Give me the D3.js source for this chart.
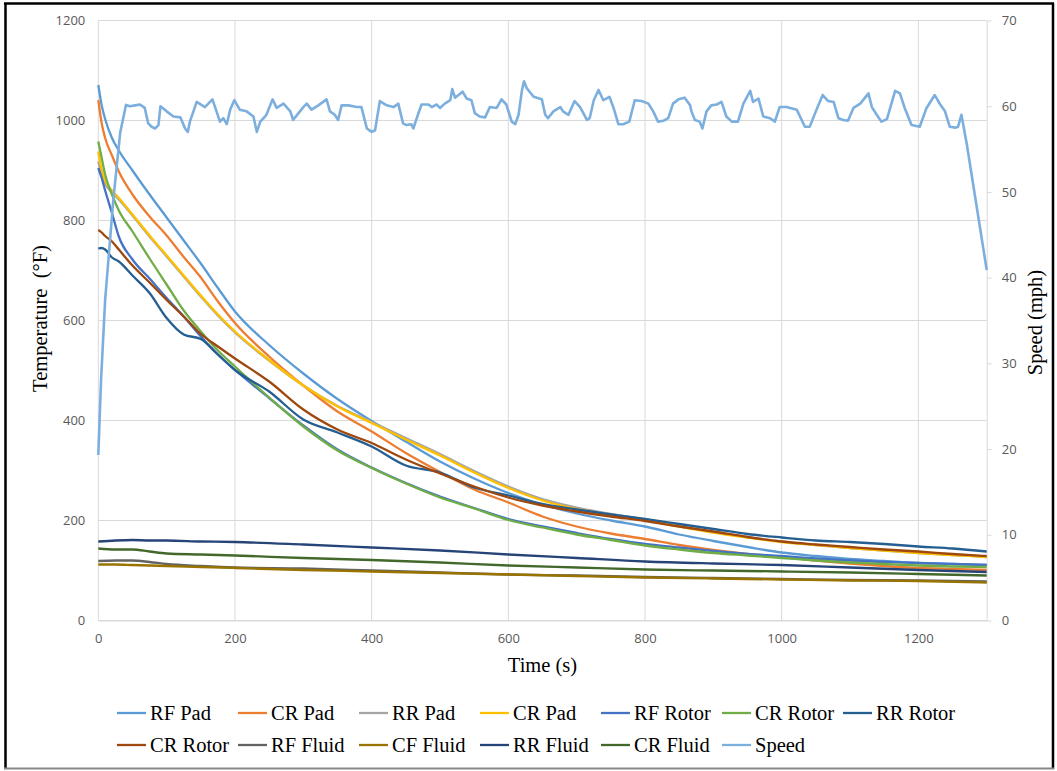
<!DOCTYPE html>
<html>
<head>
<meta charset="utf-8">
<script src="https://cdn.jsdelivr.net/npm/d3@7"></script>
<style>
  body { margin: 0; background: #fff; }
  svg { display: block; }
</style>
</head>
<body>
<div id="chart"></div>
<script>
// time grid (s) for pad / rotor readings
const tempTime = [0, 5, 10, 20, 30, 50, 75, 100, 125, 150, 175, 200, 250, 300, 350, 400, 450, 500,
  550, 600, 650, 700, 750, 800, 850, 900, 950, 1000, 1050, 1100, 1150, 1200, 1250, 1300];

const rfPad = [1071, 1030, 1003, 965, 940, 900, 852, 806, 760, 714, 665, 618, 551, 494, 443, 399, 358, 318,
  284, 255, 232, 214, 200, 188, 172, 159, 147, 136, 129, 123, 119, 115, 113, 111];
const crPadA = [1041, 994, 965, 930, 898, 852, 808, 770, 727, 686, 638, 595, 528, 470, 418, 378, 335, 297,
  262, 236, 208, 188, 174, 163, 151, 141, 133, 127, 120, 114, 109, 105, 103, 101];
const rrPad = [918, 892, 874, 856, 842, 810, 768, 728, 688, 648, 610, 576, 520, 470, 429, 397, 365, 333,
  299, 268, 243, 226, 213, 202, 189, 177, 167, 158, 151, 145, 140, 135, 131, 127];
const crPadB = [938, 900, 880, 860, 845, 812, 770, 730, 690, 650, 612, 578, 521, 470, 428, 395, 362, 330,
  296, 265, 240, 223, 211, 201, 188, 176, 166, 157, 151, 145, 140, 135, 131, 127];
const rfRotor = [905, 885, 860, 815, 768, 722, 684, 645, 608, 568, 532, 501, 445, 390, 342, 306, 275, 248,
  225, 203, 188, 175, 163, 153, 146, 139, 133, 129, 124, 120, 117, 115, 113, 111];
const crRotorA = [958, 925, 892, 852, 820, 778, 724, 672, 620, 578, 540, 508, 446, 388, 340, 305, 274, 246,
  224, 201, 186, 172, 161, 150, 142, 135, 130, 125, 120, 116, 113, 110, 108, 107];
const rrRotor = [744, 745, 742, 726, 718, 690, 655, 605, 572, 563, 532, 501, 458, 402, 376, 348, 310, 296,
  266, 250, 233, 222, 212, 203, 193, 183, 173, 166, 160, 157, 153, 148, 144, 138];
const crRotorB = [781, 776, 769, 758, 742, 710, 676, 641, 608, 573, 548, 524, 478, 422, 382, 355, 322, 294,
  268, 246, 230, 218, 208, 199, 188, 178, 167, 158, 152, 147, 142, 138, 133, 129];

// fluids change slowly, coarser grid
const fluidTime = [0, 25, 50, 75, 100, 150, 200, 300, 400, 500, 600, 700, 800, 900, 1000, 1100, 1200, 1300];
const rfFluid = [119, 120, 120, 117, 113, 109, 106, 104, 100, 96, 92, 90, 87, 85, 83, 81, 80, 78];
const cfFluid = [112, 112, 111, 110, 109, 107, 105, 101, 98, 95, 92, 89, 86, 84, 82, 80, 79, 76];
const rrFluid = [158, 160, 161, 160, 160, 158, 157, 152, 146, 140, 132, 125, 118, 114, 111, 106, 101, 97];
const crFluid = [144, 142, 142, 138, 134, 132, 130, 125, 121, 116, 110, 106, 102, 100, 98, 96, 93, 90];

// speed trace (mph), right axis
const speedTime = [0, 4, 10, 22, 32, 40.5, 46, 54, 61, 68, 73, 78, 83, 88, 91, 100, 110, 120, 127, 131,
  134, 144, 156, 167, 173, 178, 183, 188, 193, 199, 207, 217, 227, 232, 237, 244, 246, 255, 261, 271,
  281, 285, 293, 300, 305, 312, 322, 334, 339, 346, 351, 356, 366, 378, 385, 393, 400, 405, 412, 422,
  432, 439, 441, 446, 451, 458, 461, 466, 473, 483, 488, 495, 500, 507, 515, 518, 522, 533, 539, 546,
  551, 558, 566, 573, 583, 590, 597, 605, 610, 615, 620, 623, 627, 637, 649, 654, 658, 666, 676, 680,
  688, 697, 705, 715, 719, 725, 732, 739, 748, 754, 761, 768, 777, 785, 795, 805, 812, 819, 827, 834,
  841, 849, 858, 866, 868, 873, 880, 884, 890, 897, 905, 912, 919, 927, 936, 944, 954, 958, 966, 973,
  983, 990, 997, 1007, 1022, 1034, 1041, 1051, 1060, 1068, 1076, 1083, 1090, 1097, 1105, 1115, 1127, 1132, 1139, 1146,
  1154, 1166, 1173, 1180, 1190, 1202, 1212, 1224, 1232, 1239, 1246, 1254, 1258, 1263, 1271, 1300];
const speedMph = [19.3, 28, 37.4, 49.1, 56.9, 60.15, 60.0, 60.1, 60.2, 59.8, 58.0, 57.6, 57.4, 57.8, 60.0, 59.4, 58.8, 58.7, 57.4, 57.0,
  58.2, 60.5, 59.9, 60.8, 59.4, 58.2, 58.6, 57.9, 59.6, 60.7, 59.6, 59.4, 58.8, 57.0, 58.2, 58.8, 59.0, 60.8, 59.8, 60.3,
  59.4, 58.4, 59.2, 59.9, 60.3, 59.6, 60.1, 60.8, 59.4, 59.0, 58.4, 60.1, 60.1, 59.9, 59.9, 57.4, 57.0, 57.2, 60.6, 60.1,
  59.9, 60.3, 59.6, 58.0, 57.8, 57.9, 57.4, 58.6, 60.2, 60.2, 59.9, 60.2, 59.8, 60.3, 60.7, 62.0, 61.0, 61.7, 60.9, 60.7,
  59.2, 58.8, 58.7, 59.9, 59.8, 60.8, 60.2, 58.2, 57.9, 59.0, 61.9, 62.9, 62.1, 61.1, 60.8, 59.0, 58.6, 59.4, 59.9, 59.4,
  59.0, 60.6, 59.9, 58.4, 58.6, 60.7, 61.9, 60.7, 61.1, 59.8, 57.9, 57.9, 58.2, 60.7, 60.6, 60.3, 59.4, 58.2, 58.3, 58.6,
  60.3, 60.8, 61.0, 60.1, 59.4, 58.4, 58.2, 57.4, 59.4, 60.1, 60.2, 60.5, 58.8, 58.2, 58.2, 60.3, 61.8, 60.5, 60.9, 58.8,
  58.6, 58.2, 59.9, 59.9, 59.6, 57.6, 57.6, 59.6, 61.3, 60.6, 60.5, 58.6, 58.4, 58.3, 59.8, 60.3, 61.5, 59.9, 59.0, 58.2,
  58.5, 61.8, 61.5, 59.8, 57.8, 57.6, 59.8, 61.3, 60.2, 59.4, 57.6, 57.5, 57.6, 59.0, 55.5, 40.9];

const timeTicks = [0, 200, 400, 600, 800, 1000, 1200];
const tempTicks = [0, 200, 400, 600, 800, 1000, 1200];
const speedTicks = [0, 10, 20, 30, 40, 50, 60, 70];

const seriesNames = ["RF Pad", "CR Pad", "RR Pad", "CR Pad", "RF Rotor", "CR Rotor", "RR Rotor",
  "CR Rotor", "RF Fluid", "CF Fluid", "RR Fluid", "CR Fluid", "Speed"];
const seriesColors = ["#5B9BD5", "#ED7D31", "#A5A5A5", "#FFC000", "#4472C4", "#70AD47", "#255E91",
  "#9E480E", "#636363", "#997300", "#264478", "#43682B", "#7CAFDD"];

const series = [
  { t: tempTime, v: rfPad, axis: "temp" },
  { t: tempTime, v: crPadA, axis: "temp" },
  { t: tempTime, v: rrPad, axis: "temp" },
  { t: tempTime, v: crPadB, axis: "temp" },
  { t: tempTime, v: rfRotor, axis: "temp" },
  { t: tempTime, v: crRotorA, axis: "temp" },
  { t: tempTime, v: rrRotor, axis: "temp" },
  { t: tempTime, v: crRotorB, axis: "temp" },
  { t: fluidTime, v: rfFluid, axis: "temp" },
  { t: fluidTime, v: cfFluid, axis: "temp" },
  { t: fluidTime, v: rrFluid, axis: "temp" },
  { t: fluidTime, v: crFluid, axis: "temp" },
  { t: speedTime, v: speedMph, axis: "speed" },
].map((s, i) => ({ ...s, name: seriesNames[i], color: seriesColors[i] }));

const W = 1057, H = 771;
const margin = { top: 20.5, right: 70.3, bottom: 150.5, left: 98.3 };
const width = W - margin.left - margin.right;
const height = H - margin.top - margin.bottom;

const xScale = d3.scaleLinear().domain([0, 1300]).range([0, width]);
const yTemp = d3.scaleLinear().domain([0, 1200]).range([height, 0]);
const ySpeed = d3.scaleLinear().domain([0, 70]).range([height, 0]);

const root = d3.select("#chart").append("svg").attr("width", W).attr("height", H);
root.append("rect").attr("width", W).attr("height", H).attr("fill", "#fff");

const svg = root.append("g").attr("transform", `translate(${margin.left}, ${margin.top})`);

const gridColor = "#d9d9d9";
const tickFont = "'Open Sans', 'Liberation Sans', sans-serif";
const serif = "'Liberation Serif', 'Times New Roman', serif";
const plain = d3.format("d");

// grid
svg.append("g").selectAll("line").data(tempTicks).join("line")
  .attr("x1", 0).attr("x2", width)
  .attr("y1", (d) => yTemp(d)).attr("y2", (d) => yTemp(d))
  .attr("stroke", gridColor).attr("stroke-width", 1);
svg.append("g").selectAll("line").data(timeTicks).join("line")
  .attr("x1", (d) => xScale(d)).attr("x2", (d) => xScale(d))
  .attr("y1", 0).attr("y2", height)
  .attr("stroke", gridColor).attr("stroke-width", 1);

// axes
const leftAxis = svg.append("g")
  .call(d3.axisLeft(yTemp).tickValues(tempTicks).tickFormat(plain).tickSize(0).tickPadding(13));
leftAxis.select(".domain").remove();

const bottomAxis = svg.append("g")
  .attr("transform", `translate(0, ${height})`)
  .call(d3.axisBottom(xScale).tickValues(timeTicks).tickFormat(plain).tickSize(0).tickPadding(13));
bottomAxis.select(".domain").attr("stroke", gridColor);

const rightAxis = svg.append("g")
  .attr("transform", `translate(${width}, 0)`)
  .call(d3.axisRight(ySpeed).tickValues(speedTicks).tickFormat(plain).tickSize(5).tickSizeOuter(0).tickPadding(10));
rightAxis.select(".domain").attr("stroke", gridColor);
rightAxis.selectAll(".tick line").attr("stroke", gridColor);

[leftAxis, bottomAxis, rightAxis].forEach((a) => {
  a.attr("font-family", tickFont).attr("font-size", 13);
  a.selectAll(".tick text").attr("fill", "#595959");
});

// lines (pads/rotors smoothed a little, speed straight segments)
const line = d3.line().x((d) => xScale(d[0]));
svg.append("g").selectAll("path").data(series).join("path")
  .attr("fill", "none")
  .attr("stroke", (d) => d.color)
  .attr("stroke-width", (d) => (d.axis === "speed" ? 2.6 : 2.3))
  .attr("stroke-linejoin", "round")
  .attr("d", (d) => {
    const y = d.axis === "speed" ? ySpeed : yTemp;
    const curve = d.axis === "speed" ? d3.curveLinear : d3.curveMonotoneX;
    return line.curve(curve).y((p) => y(p[1]))(d.t.map((t, i) => [t, d.v[i]]));
  });

// axis titles
svg.append("text")
  .attr("transform", "rotate(-90)")
  .attr("x", -height / 2 + 2)
  .attr("y", -51)
  .attr("text-anchor", "middle")
  .attr("font-family", serif).attr("font-size", 20.5)
  .text("Temperature\u00A0 (\u00B0F)");

svg.append("text")
  .attr("transform", "rotate(-90)")
  .attr("x", -height / 2 - 2)
  .attr("y", width + 55)
  .attr("text-anchor", "middle")
  .attr("font-family", serif).attr("font-size", 20.5)
  .text("Speed (mph)");

svg.append("text")
  .attr("x", width / 2)
  .attr("y", height + 51)
  .attr("text-anchor", "middle")
  .attr("font-family", serif).attr("font-size", 20.5)
  .text("Time (s)");

// legend: 7 columns, 2 rows
const legend = root.append("g").attr("transform", "translate(117, 713)");
const item = legend.selectAll("g").data(series).join("g")
  .attr("transform", (d, i) => `translate(${(i % 7) * 121}, ${Math.floor(i / 7) * 32})`);
item.append("line")
  .attr("x1", 0).attr("x2", 29)
  .attr("stroke", (d) => d.color).attr("stroke-width", 2.3);
item.append("text")
  .attr("x", 33).attr("dy", "0.35em")
  .attr("font-family", serif).attr("font-size", 20.5)
  .text((d) => d.name);

// outer frame
root.append("line").attr("x1", 4).attr("x2", 1054).attr("y1", 3.5).attr("y2", 3.5)
  .attr("stroke", "#000").attr("stroke-width", 2.5);
root.append("line").attr("x1", 5.5).attr("x2", 5.5).attr("y1", 3).attr("y2", 769)
  .attr("stroke", "#000").attr("stroke-width", 2.5);
root.append("line").attr("x1", 1053).attr("x2", 1053).attr("y1", 3).attr("y2", 769)
  .attr("stroke", "#000").attr("stroke-width", 2.5);
root.append("line").attr("x1", 4).attr("x2", 1054).attr("y1", 768.5).attr("y2", 768.5)
  .attr("stroke", "#888").attr("stroke-width", 2);
</script>
</body>
</html>
